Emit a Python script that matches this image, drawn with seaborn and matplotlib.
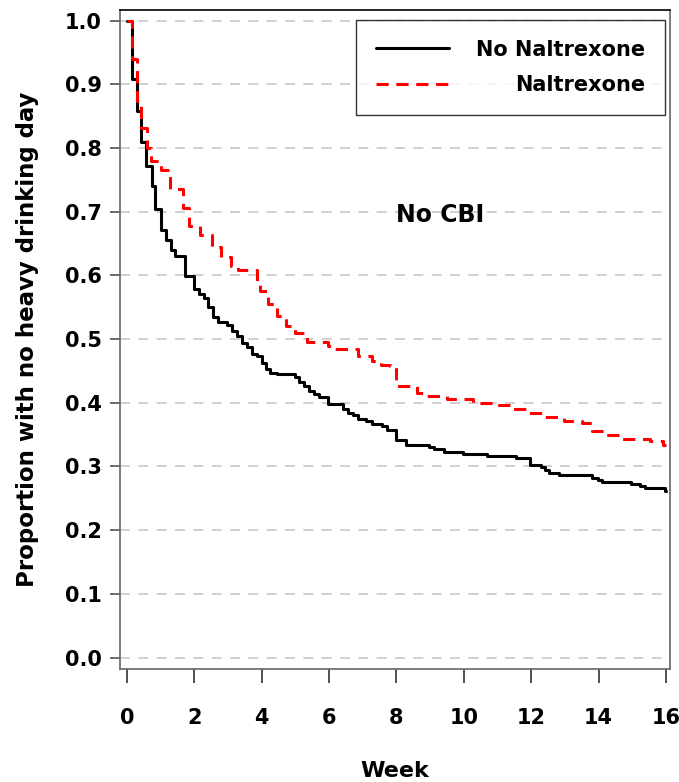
import pandas as pd
import matplotlib.pyplot as plt
import seaborn as sns

# Kaplan-Meier style step curves (week, proportion)
no_nal_week = [0, 0.16, 0.29, 0.42, 0.56, 0.73, 0.84, 1.0, 1.15, 1.30, 1.44, 1.72,
               1.99, 2.14, 2.28, 2.41, 2.56, 2.71, 2.96, 3.12, 3.27, 3.42, 3.57,
               3.70, 3.85, 4.00, 4.12, 4.26, 4.44, 4.99, 5.11, 5.25, 5.40, 5.55,
               5.70, 5.97, 6.42, 6.57, 6.70, 6.85, 7.11, 7.26, 7.56, 7.71, 7.98,
               8.27, 8.96, 9.11, 9.41, 9.98, 10.69, 11.54, 11.96, 12.28, 12.40,
               12.53, 12.83, 13.81, 13.97, 14.10, 14.96, 15.22, 15.37, 15.96, 16.0]
no_nal_prop = [1.0, 0.908, 0.858, 0.809, 0.771, 0.740, 0.704, 0.671, 0.656, 0.639,
               0.631, 0.599, 0.578, 0.571, 0.565, 0.551, 0.534, 0.527, 0.522, 0.512,
               0.504, 0.493, 0.487, 0.477, 0.473, 0.463, 0.453, 0.447, 0.445, 0.440,
               0.433, 0.426, 0.419, 0.414, 0.409, 0.398, 0.390, 0.384, 0.380, 0.375,
               0.371, 0.367, 0.364, 0.357, 0.342, 0.334, 0.331, 0.327, 0.323, 0.320,
               0.317, 0.313, 0.303, 0.299, 0.294, 0.290, 0.286, 0.282, 0.279, 0.276,
               0.273, 0.269, 0.266, 0.262, 0.262]

nal_week = [0, 0.16, 0.29, 0.43, 0.58, 0.70, 1.0, 1.28, 1.67, 1.85, 2.17, 2.53,
            2.78, 3.08, 3.30, 3.85, 3.95, 4.19, 4.44, 4.72, 4.99, 5.33, 5.97, 6.17,
            6.86, 7.26, 7.55, 7.82, 7.98, 8.60, 8.84, 9.49, 10.28, 10.87, 11.41,
            11.94, 12.40, 12.97, 13.50, 13.82, 14.20, 14.63, 15.52, 15.92, 16.0]
nal_prop = [1.0, 0.94, 0.874, 0.831, 0.80, 0.78, 0.765, 0.735, 0.705, 0.677, 0.663,
            0.645, 0.629, 0.615, 0.608, 0.590, 0.576, 0.555, 0.536, 0.520, 0.510,
            0.496, 0.489, 0.485, 0.474, 0.465, 0.460, 0.457, 0.427, 0.416, 0.410,
            0.406, 0.400, 0.396, 0.390, 0.384, 0.377, 0.371, 0.368, 0.355, 0.350,
            0.343, 0.340, 0.334, 0.334]

group_labels = ['No Naltrexone', 'Naltrexone']
x_ticks = list(range(0, 17, 2))
y_ticks = [i / 10 for i in range(11)]

df_no = pd.DataFrame({'week': no_nal_week, 'prop': no_nal_prop})
df_nal = pd.DataFrame({'week': nal_week, 'prop': nal_prop})

sns.set_style('ticks')
plt.rcParams['font.family'] = ['DejaVu Sans']
plt.rcParams['font.weight'] = 'bold'
plt.rcParams['text.color'] = 'black'
plt.rcParams['axes.labelcolor'] = 'black'
plt.rcParams['xtick.labelcolor'] = 'black'
plt.rcParams['ytick.labelcolor'] = 'black'
plt.rcParams['xtick.bottom'] = True
plt.rcParams['xtick.direction'] = 'out'
plt.rcParams['xtick.major.size'] = 10
plt.rcParams['xtick.major.width'] = 1.2
plt.rcParams['xtick.color'] = '#333333'

fig = plt.figure(figsize=(6.79, 7.82), dpi=100)
ax = fig.add_axes([0.1767, 0.1445, 0.810, 0.8427])

sns.lineplot(data=df_no, x='week', y='prop', ax=ax, color='black', linewidth=2.2,
             drawstyle='steps-post', estimator=None, label=group_labels[0])
sns.lineplot(data=df_nal, x='week', y='prop', ax=ax, color='red', linewidth=2.2,
             drawstyle='steps-post', estimator=None, label=group_labels[1],
             dashes=False)
ax.lines[1].set_dashes((4, 2.5))

ax.set_xlim(-0.208, 16.12)
ax.set_ylim(-0.018, 1.0165)
ax.set_xticks(x_ticks)
ax.set_yticks(y_ticks)
ax.set_yticklabels([f'{v:.1f}' for v in y_ticks])
ax.yaxis.grid(True, linestyle=(0, (6, 5)), color='#c8c8c8', linewidth=1.2)
ax.set_axisbelow(True)

ax.tick_params(axis='y', length=7, width=1.1, color='#444444', pad=6, labelsize=15,
               labelcolor='black')
ax.xaxis.set_tick_params(which='major', length=10, width=1.2, color='#333333',
                         direction='out', bottom=True, pad=18, labelsize=15,
                         labelcolor='black')
for lab in ax.get_xticklabels() + ax.get_yticklabels():
    lab.set_fontweight('bold')
for s in ax.spines.values():
    s.set_color('#666666')
    s.set_linewidth(1.2)
ax.spines['top'].set_color('black')

ax.set_xlabel('Week', fontsize=16, fontweight='bold', labelpad=24, color='black')
ax.set_ylabel('Proportion with no heavy drinking day', fontsize=16.5, fontweight='bold',
              labelpad=19, color='black')

ax.text(9.3, 0.695, 'No CBI', fontsize=17, fontweight='bold', ha='center', va='center',
        color='black')

leg = ax.legend(loc='upper right', bbox_to_anchor=(0.991, 0.985), borderaxespad=0,
                fontsize=15, frameon=True, fancybox=False, edgecolor='black',
                handlelength=3.5, handletextpad=1.3, borderpad=0.95, labelspacing=0.75)
leg.get_frame().set_linewidth(1.0)
for t in leg.get_texts():
    t.set_color('black')

# right-align the legend labels like the original
fig.canvas.draw()
renderer = fig.canvas.get_renderer()
widths = [t.get_window_extent(renderer).width for t in leg.get_texts()]
for t, w in zip(leg.get_texts(), widths):
    t.set_position((max(widths) - w, 0))

fig.savefig('out.png', dpi=100)
